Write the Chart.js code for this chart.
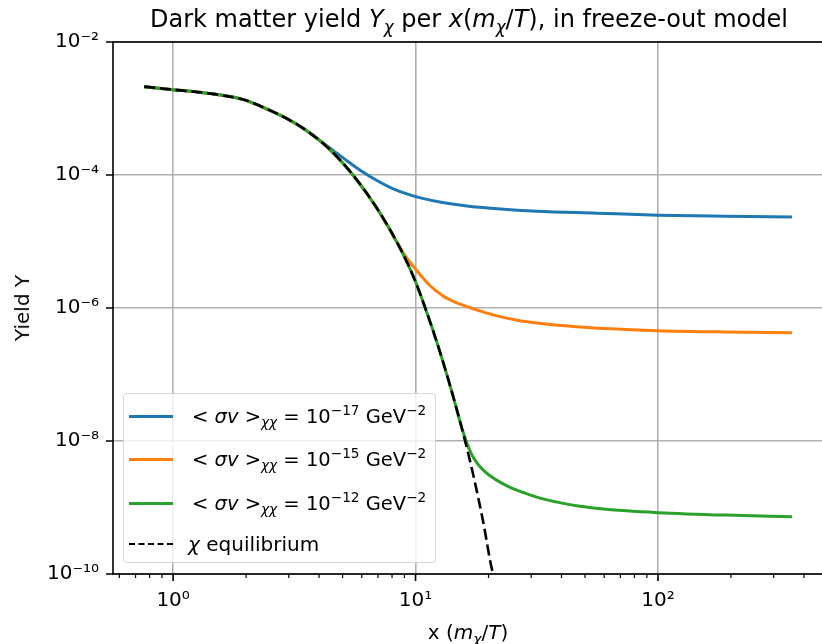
<!DOCTYPE html>
<html>
<head>
<meta charset="utf-8">
<script src="https://cdn.jsdelivr.net/npm/chart.js@4/dist/chart.umd.min.js"></script>
<style>
  html, body { margin:0; padding:0; background:#fff; overflow:hidden; width:822px; height:644px; }
  #wrap { position:relative; width:822px; height:644px; overflow:hidden; font-family:"DejaVu Sans", sans-serif; color:#000; }
  canvas { position:absolute; left:0; top:0; }
  .lbl { position:absolute; white-space:nowrap; transform:translate(-50%,-50%); }
  .m { font-style:italic; }
  sub, sup { font-size:70%; line-height:0; }
  #legend { position:absolute; left:123px; top:393px; width:313px; height:170px; box-sizing:border-box;
            border:1px solid #d6d6d6; border-radius:4px; background:rgba(255,255,255,0.8); }
  .row { position:absolute; left:0; height:30px; width:100%; }
  .sw { position:absolute; left:5px; width:44px; top:50%; height:0; }
  .tx { position:absolute; left:64px; top:50%; transform:translateY(-50%); font-size:20px; white-space:nowrap; }
  .tx.math { left:68px; font-size:19.5px; }
</style>
</head>
<body>
<div id="wrap">
  <canvas id="c" width="840" height="644"></canvas>
  <div class="lbl" style="left:469px; top:19px; font-size:24px;">Dark matter yield <span class="m">Y<sub>χ</sub></span> per <span class="m">x</span>(<span class="m">m<sub>χ</sub></span>/<span class="m">T</span>), in freeze-out model</div>
  <div class="lbl" style="left:468px; top:632px; font-size:20px;">x (<span class="m">m<sub>χ</sub></span>/<span class="m">T</span>)</div>
  <div class="lbl" style="left:22px; top:308px; font-size:20px; transform:translate(-50%,-50%) rotate(-90deg);">Yield Y</div>
  <div id="legend">
    <div class="row" style="top:7px;"><div class="sw" style="border-top:3px solid #1f77b4; margin-top:-1.5px;"></div><div class="tx math">&lt; <span class="m">σv</span> &gt;<sub class="m">χχ</sub> = 10<sup>−17</sup> GeV<sup>−2</sup></div></div>
    <div class="row" style="top:50px;"><div class="sw" style="border-top:3px solid #ff7f0e; margin-top:-1.5px;"></div><div class="tx math">&lt; <span class="m">σv</span> &gt;<sub class="m">χχ</sub> = 10<sup>−15</sup> GeV<sup>−2</sup></div></div>
    <div class="row" style="top:94px;"><div class="sw" style="border-top:3px solid #2ca02c; margin-top:-1.5px;"></div><div class="tx math">&lt; <span class="m">σv</span> &gt;<sub class="m">χχ</sub> = 10<sup>−12</sup> GeV<sup>−2</sup></div></div>
    <div class="row" style="top:135px;"><div class="sw" style="border-top:2.5px dashed #000; margin-top:-1.2px;"></div><div class="tx"><span class="m">χ</span> equilibrium</div></div>
  </div>
</div>
<script>
// ---- data ----
const eqX = [0.76, 1.0, 1.278, 1.543, 1.954, 2.47, 2.98, 3.51, 4.36, 5.52, 6.99, 8.60, 9.91, 11.2, 12.43, 13.91, 15.29, 16.34, 17.45, 19.0, 20.69, 21.0];
const eqY = [2.13e-3, 1.92e-3, 1.76e-3, 1.61e-3, 1.36e-3, 9.6e-4, 6.89e-4, 4.79e-4, 2.56e-4, 1.0e-4, 3.01e-5, 8.17e-6, 2.69e-6, 8.04e-7, 2.58e-7, 6.64e-8, 1.91e-8, 7.46e-9, 2.69e-9, 6.17e-10, 1.16e-10, 1.0e-10];

const blueX = [0.76, 1.0, 1.278, 1.543, 1.954, 2.47, 2.98, 3.51, 3.97, 4.57, 5.26, 6.06, 6.99, 8.05, 9.27, 10.68, 12.9, 16.3, 21.7, 31.6, 55.7, 100, 190, 357];
const blueY = [2.13e-3, 1.92e-3, 1.76e-3, 1.61e-3, 1.36e-3, 9.6e-4, 6.89e-4, 4.79e-4, 3.44e-4, 2.34e-4, 1.60e-4, 1.11e-4, 8.12e-5, 6.25e-5, 5.16e-5, 4.45e-5, 3.87e-5, 3.43e-5, 3.12e-5, 2.86e-5, 2.67e-5, 2.49e-5, 2.40e-5, 2.34e-5];

const orangeX = [0.76, 1.0, 1.278, 1.543, 1.954, 2.47, 2.98, 3.51, 4.36, 5.52, 6.99, 8.05, 8.44, 8.84, 9.36, 9.91, 10.68, 11.52, 12.31, 13.15, 14.18, 15.29, 16.81, 18.83, 21.08, 26.2, 31.6, 46.1, 67.3, 100, 190, 357];
const orangeY = [2.13e-3, 1.92e-3, 1.76e-3, 1.61e-3, 1.36e-3, 9.6e-4, 6.89e-4, 4.79e-4, 2.56e-4, 1.0e-4, 3.01e-5, 1.26e-5, 9.29e-6, 7.01e-6, 5.18e-6, 4.01e-6, 2.88e-6, 2.14e-6, 1.75e-6, 1.47e-6, 1.28e-6, 1.14e-6, 1.01e-6, 8.82e-7, 7.82e-7, 6.56e-7, 5.96e-7, 5.24e-7, 4.83e-7, 4.56e-7, 4.36e-7, 4.25e-7];

const greenX = [0.76, 1.0, 1.278, 1.543, 1.954, 2.47, 2.98, 3.51, 4.36, 5.52, 6.99, 8.60, 9.91, 11.2, 12.43, 13.91, 15.29, 15.73, 16.34, 16.96, 17.62, 18.30, 19.18, 20.30, 21.68, 23.83, 26.18, 29.60, 33.47, 38.2, 46.1, 55.7, 73.9, 100, 190, 357];
const greenY = [2.13e-3, 1.92e-3, 1.76e-3, 1.61e-3, 1.36e-3, 9.6e-4, 6.89e-4, 4.79e-4, 2.56e-4, 1.0e-4, 3.01e-5, 8.17e-6, 2.69e-6, 8.04e-7, 2.58e-7, 6.64e-8, 1.91e-8, 1.34e-8, 8.97e-9, 6.52e-9, 5.11e-9, 4.25e-9, 3.56e-9, 3.00e-9, 2.56e-9, 2.12e-9, 1.82e-9, 1.55e-9, 1.35e-9, 1.21e-9, 1.06e-9, 9.75e-10, 8.91e-10, 8.37e-10, 7.68e-10, 7.23e-10];

const xMajorTicks = [1, 10, 100];
const xMinorTicks = [0.6, 0.7, 0.8, 0.9, 2, 3, 4, 5, 6, 7, 8, 9, 20, 30, 40, 50, 60, 70, 80, 90, 200, 300, 400];
const yMajorTicks = [1e-10, 1e-8, 1e-6, 1e-4, 1e-2];
const xRange = [0.565, 498];
const yRange = [1e-10, 1e-2];

// ---- helpers ----
const SUP = {'-':'⁻','0':'⁰','1':'¹','2':'²','3':'³','4':'⁴','5':'⁵','6':'⁶','7':'⁷','8':'⁸','9':'⁹'};
function powLabel(v) {
  const e = Math.round(Math.log10(v));
  return '10' + String(e).split('').map(c => SUP[c]).join('');
}
const pts = (xs, ys) => xs.map((x, i) => ({x, y: ys[i]}));

const tickPlugin = {
  id: 'mplTicks',
  afterDraw(chart) {
    const {ctx, chartArea: a, scales: {x, y}} = chart;
    ctx.save();
    ctx.strokeStyle = '#000';
    ctx.lineWidth = 1.6;
    ctx.beginPath();
    xMajorTicks.forEach(v => { const p = x.getPixelForValue(v); ctx.moveTo(p, a.bottom); ctx.lineTo(p, a.bottom + 7); });
    yMajorTicks.forEach(v => { const p = y.getPixelForValue(v); ctx.moveTo(a.left, p); ctx.lineTo(a.left - 7, p); });
    ctx.stroke();
    ctx.lineWidth = 1.2;
    ctx.beginPath();
    xMinorTicks.forEach(v => { const p = x.getPixelForValue(v); ctx.moveTo(p, a.bottom); ctx.lineTo(p, a.bottom + 4); });
    ctx.stroke();
    ctx.lineWidth = 1.6;
    ctx.strokeRect(a.left, a.top, a.right - a.left, a.bottom - a.top);
    ctx.restore();
  }
};

new Chart(document.getElementById('c'), {
  type: 'line',
  data: {
    datasets: [
      { label: 'eq', data: pts(eqX, eqY), borderColor: '#000', borderWidth: 2.6, borderDash: [11, 4.8], order: 0 },
      { label: 'g', data: pts(greenX, greenY), borderColor: '#2ca02c', borderWidth: 3, order: 1 },
      { label: 'o', data: pts(orangeX, orangeY), borderColor: '#ff7f0e', borderWidth: 3, order: 2 },
      { label: 'b', data: pts(blueX, blueY), borderColor: '#1f77b4', borderWidth: 3, order: 3 }
    ]
  },
  options: {
    responsive: false,
    animation: false,
    events: [],
    layout: { padding: { top: 42, right: 13, left: 0, bottom: 0 } },
    elements: { point: { radius: 0 }, line: { cubicInterpolationMode: 'monotone', fill: false } },
    plugins: { legend: { display: false }, tooltip: { enabled: false }, title: { display: false } },
    scales: {
      x: {
        type: 'logarithmic', min: xRange[0], max: xRange[1],
        afterBuildTicks: s => { s.ticks = xMajorTicks.map(v => ({value: v})); },
        afterFit: s => { s.height = 70; },
        grid: { color: '#b0b0b0', lineWidth: 1.6, drawTicks: false },
        border: { display: false },
        ticks: { autoSkip: false, maxRotation: 0, padding: 15, color: '#000',
                 font: { family: 'DejaVu Sans', size: 20 }, callback: v => powLabel(v) }
      },
      y: {
        type: 'logarithmic', min: yRange[0], max: yRange[1],
        afterBuildTicks: s => { s.ticks = yMajorTicks.map(v => ({value: v})); },
        afterFit: s => { s.width = 113; },
        grid: { color: '#b0b0b0', lineWidth: 1.6, drawTicks: false },
        border: { display: false },
        ticks: { autoSkip: false, padding: 14, color: '#000',
                 font: { family: 'DejaVu Sans', size: 20 }, callback: v => powLabel(v) }
      }
    }
  },
  plugins: [tickPlugin]
});
</script>
</body>
</html>
